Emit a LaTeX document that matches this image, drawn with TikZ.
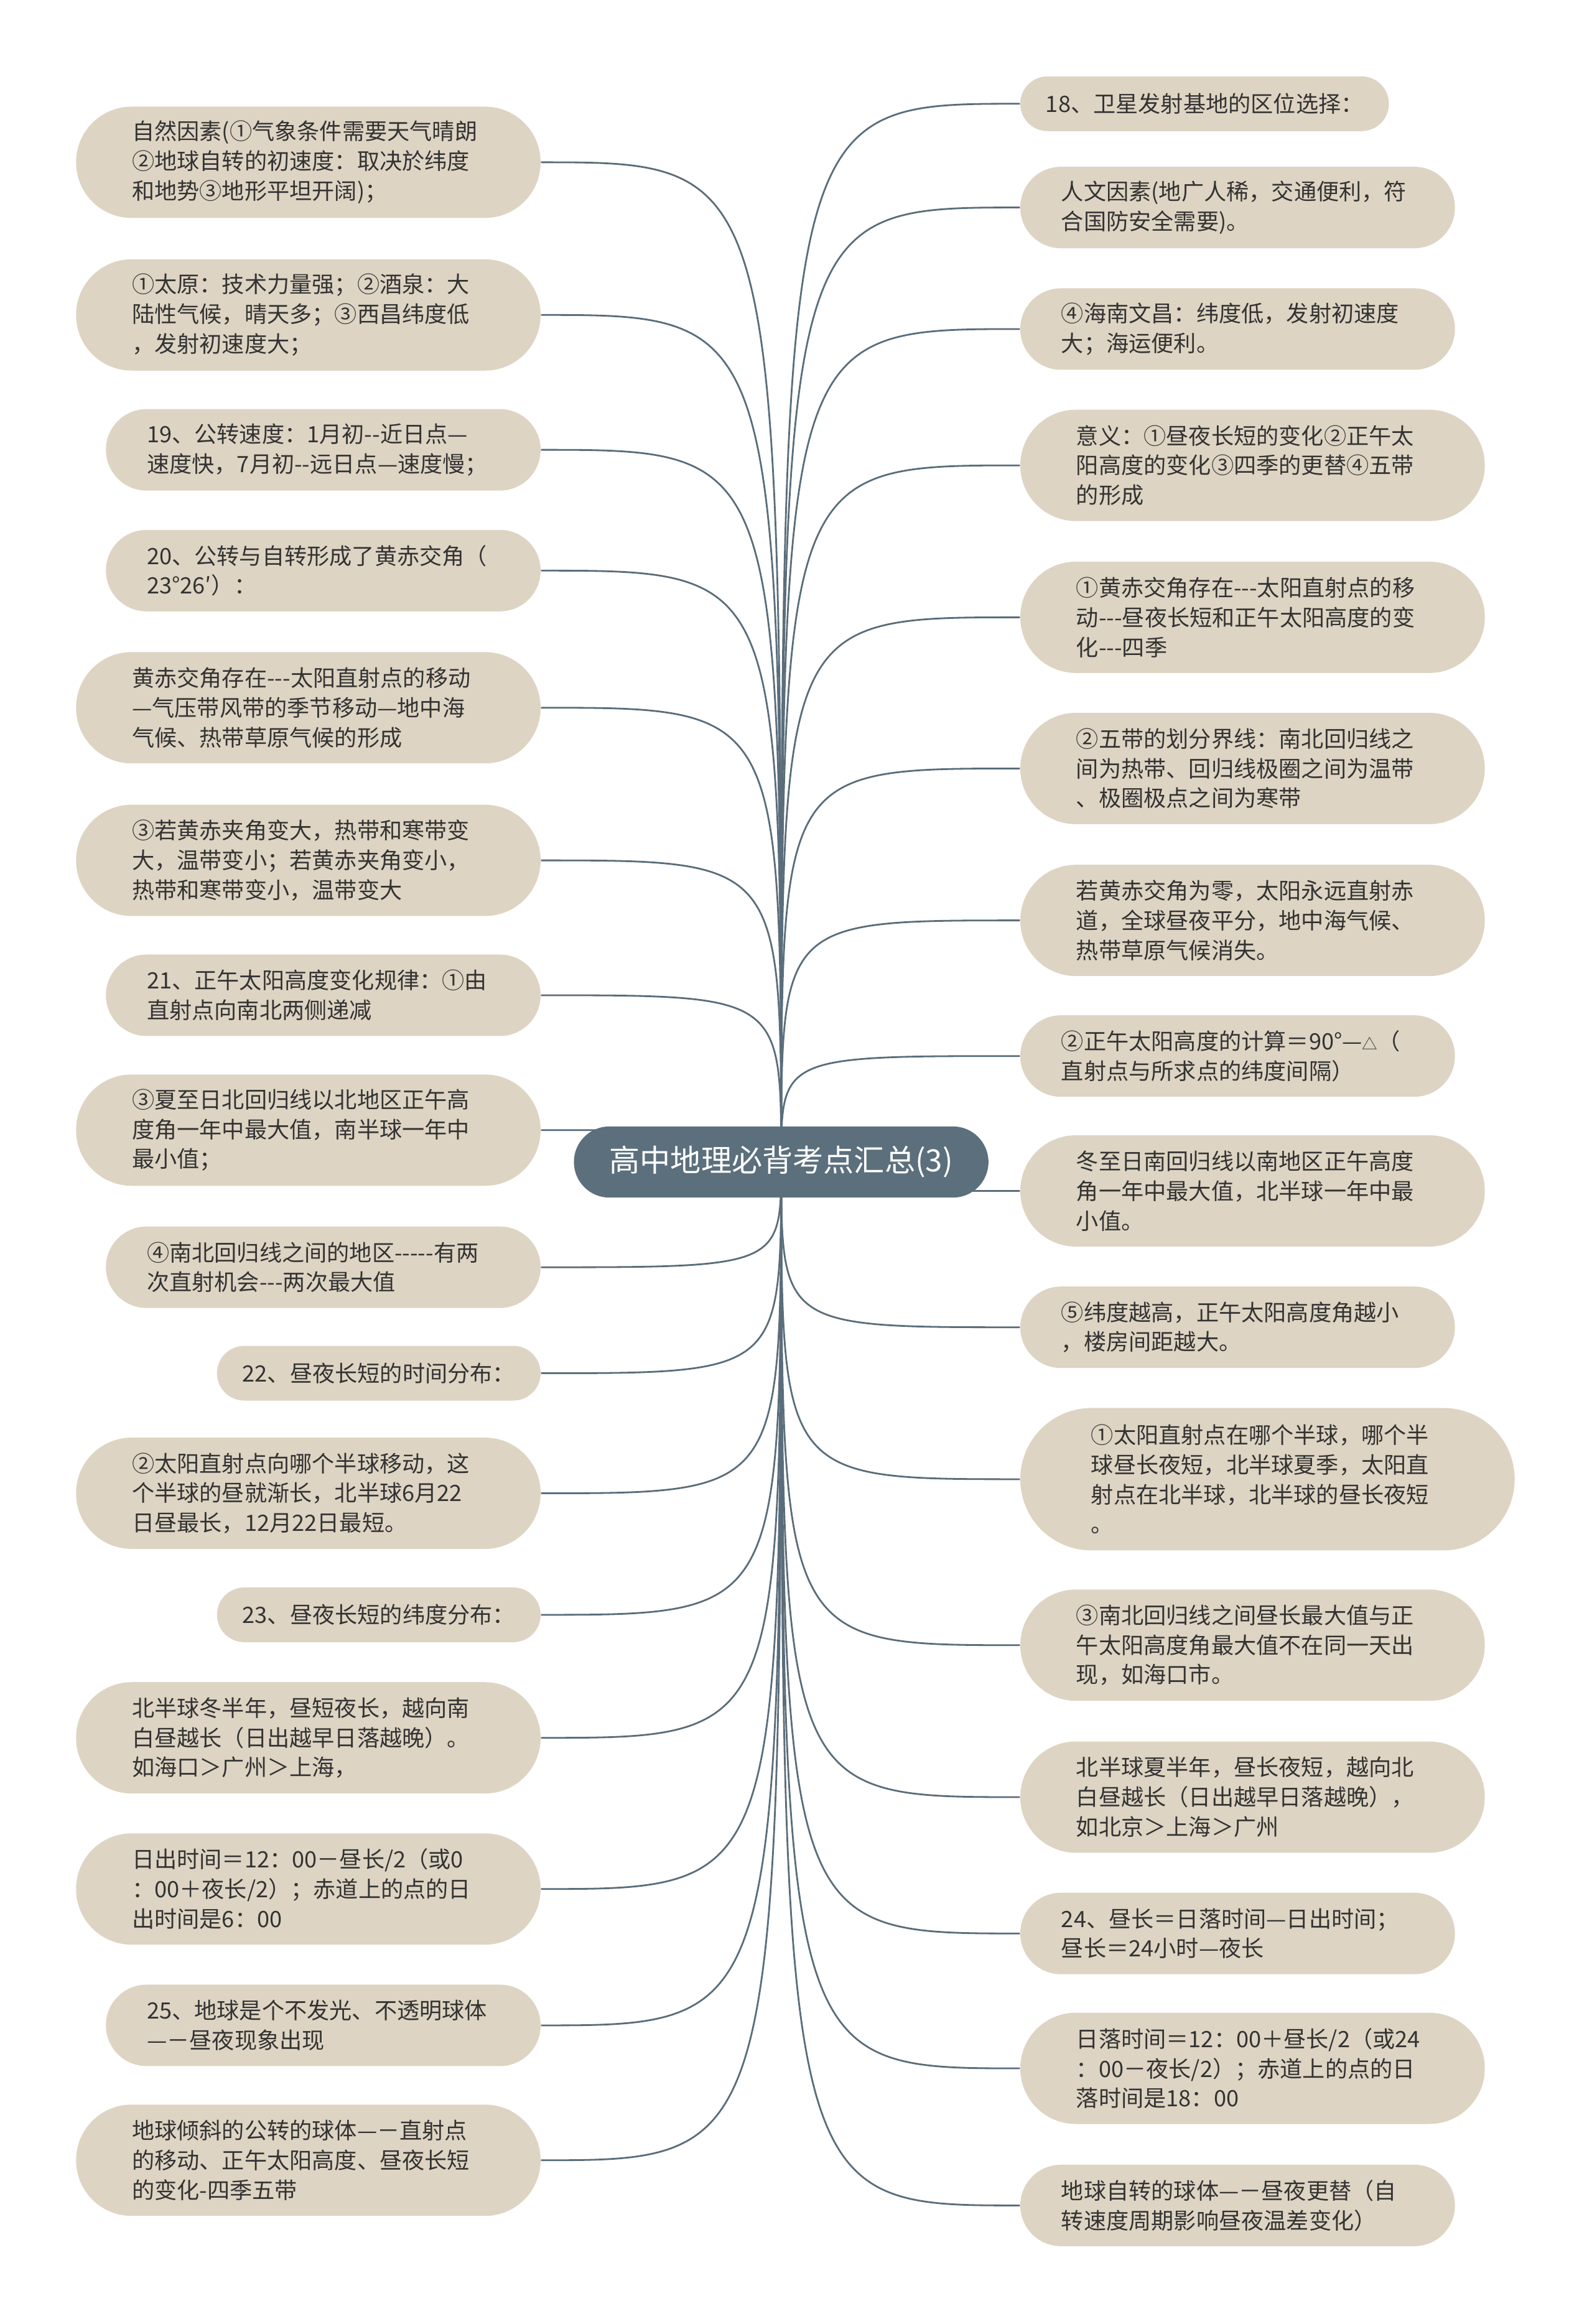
\documentclass[tikz,border=0pt]{standalone}
\usepackage{fontspec}
\newfontfamily\cjk{Noto Sans CJK SC}
\definecolor{mmroot}{HTML}{5C6F7C}
\definecolor{mmleaf}{HTML}{DED4C3}
\definecolor{mmline}{HTML}{5A6D7A}
\definecolor{mmtext}{HTML}{333333}
\usepackage{tikz}
\usetikzlibrary{backgrounds}

\begin{document}
\begin{tikzpicture}[
  x=0.23836mm, y=-0.23836mm,
  every node/.style={align=left},
  leaf/.style={rectangle, fill=mmleaf, text=mmtext, inner ysep=0pt,
               font=\cjk\fontsize{10.3}{13.6}\selectfont},
  one/.style={leaf, minimum height=8.8mm, rounded corners=4.39mm, inner xsep=4.1mm},
  two/.style={leaf, text width=56.7mm, minimum height=13.1mm, rounded corners=6.54mm, inner xsep=6.6mm},
  three/.style={leaf, text width=56.7mm, minimum height=17.9mm, rounded corners=8.94mm, inner xsep=9mm},
  four/.style={leaf, text width=56.7mm, minimum height=22.9mm, rounded corners=11.44mm, inner xsep=11.4mm},
  centre/.style={rectangle, fill=mmroot, text=white, inner xsep=5.7mm, inner ysep=0pt,
                 minimum height=11.44mm, rounded corners=5.71mm, font=\cjk\fontsize{14}{16}\selectfont},
  link/.style={draw=mmline, line width=0.8pt},
]
  \useasboundingbox (0,0) rectangle (1074,1568);

  % Root
  \node[centre] (root) at (527,784) {高中地理必背考点汇总(3)};

  % Left branch
  \node[three, anchor=east] (l1) at (365,109.5) {自然因素(①气象条件需要天气晴朗\\②地球自转的初速度：取决於纬度\\和地势③地形平坦开阔)；};
  \node[three, anchor=east] (l2) at (365,212.5) {①太原：技术力量强；②酒泉：大\\陆性气候，晴天多；③西昌纬度低\\，发射初速度大；};
  \node[two, anchor=east] (l3) at (365,303.5) {19、公转速度：1月初--近日点—\\速度快，7月初--远日点—速度慢；};
  \node[two, anchor=east] (l4) at (365,385) {20、公转与自转形成了黄赤交角（\\23°26′）：};
  \node[three, anchor=east] (l5) at (365,477.5) {黄赤交角存在---太阳直射点的移动\\—气压带风带的季节移动—地中海\\气候、热带草原气候的形成};
  \node[three, anchor=east] (l6) at (365,580.5) {③若黄赤夹角变大，热带和寒带变\\大，温带变小；若黄赤夹角变小，\\热带和寒带变小，温带变大};
  \node[two, anchor=east] (l7) at (365,671.5) {21、正午太阳高度变化规律：①由\\直射点向南北两侧递减};
  \node[three, anchor=east] (l8) at (365,762.5) {③夏至日北回归线以北地区正午高\\度角一年中最大值，南半球一年中\\最小值；};
  \node[two, anchor=east] (l9) at (365,855) {④南北回归线之间的地区-----有两\\次直射机会---两次最大值};
  \node[one, anchor=east] (l10) at (365,926.5) {22、昼夜长短的时间分布：};
  \node[three, anchor=east] (l11) at (365,1007.5) {②太阳直射点向哪个半球移动，这\\个半球的昼就渐长，北半球6月22\\日昼最长，12月22日最短。};
  \node[one, anchor=east] (l12) at (365,1089.5) {23、昼夜长短的纬度分布：};
  \node[three, anchor=east] (l13) at (365,1172.5) {北半球冬半年，昼短夜长，越向南\\白昼越长（日出越早日落越晚）。\\如海口＞广州＞上海，};
  \node[three, anchor=east] (l14) at (365,1274.5) {日出时间＝12：00－昼长/2（或0\\：00＋夜长/2）；赤道上的点的日\\出时间是6：00};
  \node[two, anchor=east] (l15) at (365,1366.5) {25、地球是个不发光、不透明球体\\—－昼夜现象出现};
  \node[three, anchor=east] (l16) at (365,1457.5) {地球倾斜的公转的球体—－直射点\\的移动、正午太阳高度、昼夜长短\\的变化-四季五带};

  % Right branch
  \node[one, anchor=west] (r1) at (688,70) {18、卫星发射基地的区位选择：};
  \node[two, anchor=west] (r2) at (688,140) {人文因素(地广人稀，交通便利，符\\合国防安全需要)。};
  \node[two, anchor=west] (r3) at (688,222) {④海南文昌：纬度低，发射初速度\\大；海运便利。};
  \node[three, anchor=west] (r4) at (688,314) {意义：①昼夜长短的变化②正午太\\阳高度的变化③四季的更替④五带\\的形成};
  \node[three, anchor=west] (r5) at (688,416.5) {①黄赤交角存在---太阳直射点的移\\动---昼夜长短和正午太阳高度的变\\化---四季};
  \node[three, anchor=west] (r6) at (688,518.5) {②五带的划分界线：南北回归线之\\间为热带、回归线极圈之间为温带\\、极圈极点之间为寒带};
  \node[three, anchor=west] (r7) at (688,621) {若黄赤交角为零，太阳永远直射赤\\道，全球昼夜平分，地中海气候、\\热带草原气候消失。};
  \node[two, anchor=west] (r8) at (688,712.5) {②正午太阳高度的计算＝90°—{\scriptsize △}（\\直射点与所求点的纬度间隔）};
  \node[three, anchor=west] (r9) at (688,803.5) {冬至日南回归线以南地区正午高度\\角一年中最大值，北半球一年中最\\小值。};
  \node[two, anchor=west] (r10) at (688,895.5) {⑤纬度越高，正午太阳高度角越小\\，楼房间距越大。};
  \node[four, anchor=west] (r11) at (688,998) {①太阳直射点在哪个半球，哪个半\\球昼长夜短，北半球夏季，太阳直\\射点在北半球，北半球的昼长夜短\\。};
  \node[three, anchor=west] (r12) at (688,1110) {③南北回归线之间昼长最大值与正\\午太阳高度角最大值不在同一天出\\现，如海口市。};
  \node[three, anchor=west] (r13) at (688,1212.5) {北半球夏半年，昼长夜短，越向北\\白昼越长（日出越早日落越晚），\\如北京＞上海＞广州};
  \node[two, anchor=west] (r14) at (688,1304.5) {24、昼长＝日落时间—日出时间；\\昼长＝24小时—夜长};
  \node[three, anchor=west] (r15) at (688,1395.5) {日落时间＝12：00＋昼长/2（或24\\：00－夜长/2）；赤道上的点的日\\落时间是18：00};
  \node[two, anchor=west] (r16) at (688,1488) {地球自转的球体—－昼夜更替（自\\转速度周期影响昼夜温差变化）};

  % Links
  \begin{scope}[on background layer]
    \foreach \i in {1,...,16} {
      \draw[link] (root.center) .. controls (root.center |- l\i.east) .. (l\i.east);
      \draw[link] (root.center) .. controls (root.center |- r\i.west) .. (r\i.west);
    }
  \end{scope}
\end{tikzpicture}
\end{document}
